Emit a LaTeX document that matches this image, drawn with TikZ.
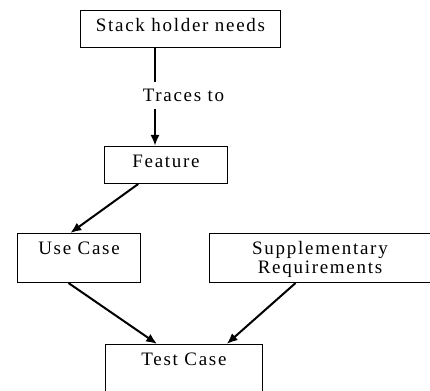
\documentclass[tikz,border=0pt]{standalone}
\usepackage{fontspec}
\setmainfont{Liberation Serif}[LetterSpace=9]
\usepackage{tikz}
\usetikzlibrary{arrows.meta,calc}

\tikzset{
    box/.style={draw, line width=1pt, anchor=north west, inner xsep=2pt, inner ysep=8pt,
        align=center, text height=13pt, font=\fontsize{19}{19}\selectfont},
    conn/.style={line width=2pt, -{Latex[length=11pt,width=9pt]}}
}

\begin{document}
\begin{tikzpicture}[x=1pt,y=-1pt]
    \useasboundingbox (0,0) rectangle (430,390);

    \node[box, minimum width=200pt, text depth=8pt] (needs) at (80,10) {Stack holder needs};
    \node[box, minimum width=123pt, text depth=8pt] (feature) at (104,146) {Feature};
    \node[box, minimum width=123pt, text depth=20pt] (usecase) at (17,233) {Use Case};
    \node[box, minimum width=221pt, text height=32pt, text depth=1pt] (supp) at (209,233) {Supplementary\\Requirements};
    \node[box, minimum width=157pt, text depth=21pt] (test) at (105,344) {Test Case};

    \coordinate (spine) at (155,0);
    \node[anchor=base, inner ysep=6.5pt, text height=13pt, text depth=0pt,
        font=\fontsize{19}{19}\selectfont] (traces) at (183.5,102) {Traces to};

    \draw[line width=2.2pt] (spine |- needs.south) -- (spine |- traces.north);
    \draw[conn, line width=2.2pt] (spine |- traces.south) -- (spine |- feature.north);

    \draw[conn] ($(feature.south west)!0.276!(feature.south east)$) -- ($(usecase.north west)!0.43!(usecase.north east)$);
    \draw[conn] ($(usecase.south west)!0.415!(usecase.south east)$) -- ($(test.north west)!0.33!(test.north east)$);
    \draw[conn] ($(supp.south west)!0.39!(supp.south east)$) -- ($(test.north west)!0.77!(test.north east)$);
\end{tikzpicture}
\end{document}
